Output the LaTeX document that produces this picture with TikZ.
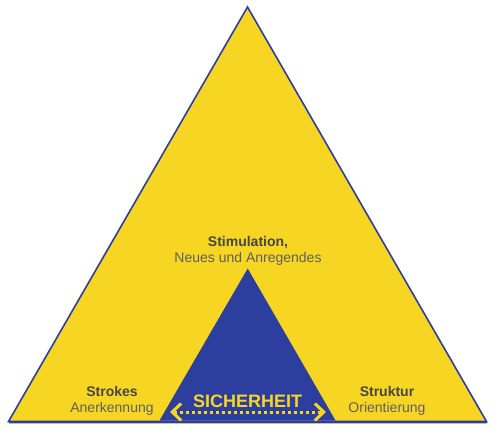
\documentclass[tikz,border=0pt]{standalone}
\usepackage{fontspec}
\setmainfont{Liberation Sans}
\usetikzlibrary{arrows.meta}
\definecolor{tyellow}{RGB}{247,214,35}
\definecolor{tblue}{RGB}{44,62,158}
\definecolor{tdark}{RGB}{70,70,70}
\definecolor{tlight}{RGB}{95,95,95}
\tikzset{
  titletext/.style={font=\fontsize{14}{16}\selectfont\bfseries, text=tdark, inner sep=0pt, anchor=base},
  subtext/.style={font=\fontsize{14}{16}\selectfont, text=tlight, inner sep=0pt, anchor=base},
  outertri/.style={fill=tyellow, draw=tblue, line width=1.6pt, line join=miter},
  innertri/.style={fill=tblue},
  safearrow/.style={draw=tyellow, line width=3pt, dash pattern=on 3pt off 3pt,
     {Straight Barb[length=9pt,width=17pt,line width=3pt]}-{Straight Barb[length=9pt,width=17pt,line width=3pt]}}
}
\begin{document}
\begin{tikzpicture}[x=1pt,y=-1pt]
\useasboundingbox (0,0) rectangle (502,442);
% shadow under base
\draw[black!25, line width=1.2pt] (9,423.5) -- (487,423.5);
% outer triangle
\coordinate (oA) at (247.5,7);
\coordinate (oL) at (8.5,421.5);
\coordinate (oR) at (486.5,421.5);
\draw[outertri] (oA) -- (oR) -- (oL) -- cycle;
% inner triangle
\coordinate (iA) at (247.7,268.5);
\coordinate (iL) at (159.5,420.5);
\coordinate (iR) at (335.5,420.5);
\fill[innertri] (iA) -- (iR) -- (iL) -- cycle;
\draw[tblue, line width=2pt] (oL) -- (oR);
% texts
\node[titletext] (stim) at (248,246) {Stimulation,};
\node[subtext] (neu) at (248,262) {Neues und Anregendes};
\node[titletext] (strokes) at (112,396) {Strokes};
\node[subtext] (anerk) at (112,412) {Anerkennung};
\node[titletext] (struk) at (387,396) {Struktur};
\node[subtext] (orient) at (387,412) {Orientierung};
\node[font=\fontsize{18}{20}\selectfont\bfseries, text=tyellow, inner sep=0pt, anchor=base] (sich) at (247.7,407.5) {SICHERHEIT};
% arrow
\coordinate (aL) at (170,412);
\coordinate (aR) at (326,412);
\draw[safearrow] (aL) -- (aR);
\end{tikzpicture}
\end{document}
